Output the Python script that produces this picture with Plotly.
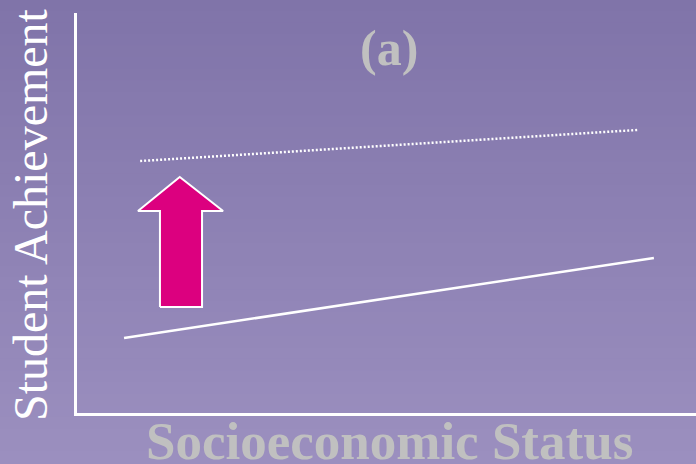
import plotly.graph_objects as go

# lines (axis units 0-100)
ses = [7.6, 93.2]
achievement_low = [18.75, 38.75]
ses_raised = [10.2, 90.5]
achievement_high = [63.0, 70.75]

# upward arrow outline
arrow_x = [13.4, 13.4, 9.85, 16.6, 23.6, 20.2, 20.2, 13.4]
arrow_y = [26.5, 50.5, 50.5, 59.0, 50.5, 50.5, 26.5, 26.5]

W, H = 696, 464
L, R, T, B = 77, 0, 13, 51

fig = go.Figure()

fig.add_trace(go.Scatter(x=ses, y=achievement_low, mode="lines",
                         line=dict(color="white", width=2.5), hoverinfo="skip"))
fig.add_trace(go.Scatter(x=ses_raised, y=achievement_high, mode="lines",
                         line=dict(color="white", width=2.5, dash="2px,2px"), hoverinfo="skip"))
fig.add_trace(go.Scatter(x=arrow_x, y=arrow_y, mode="lines", fill="toself",
                         fillcolor="#dc007f", line=dict(color="white", width=2),
                         hoverinfo="skip"))

# vertical gradient background drawn as thin bands
top, bot = (0x80, 0x74, 0xa9), (0x9b, 0x8f, 0xbf)
n = 40
pw, ph = W - L - R, H - T - B
y0p, y1p = -B / ph, 1 + T / ph
shapes = []
for i in range(n):
    f = i / (n - 1)
    c = tuple(round(top[k] + (bot[k] - top[k]) * f) for k in range(3))
    ya = y1p - (y1p - y0p) * i / n
    yb = y1p - (y1p - y0p) * (i + 1) / n
    shapes.append(dict(type="rect", xref="paper", yref="paper", layer="below",
                       x0=-L / pw - 0.01, x1=1.01, y0=yb - 0.002, y1=ya + 0.002,
                       line=dict(width=0), fillcolor="rgb(%d,%d,%d)" % c))

fig.update_layout(
    width=W, height=H,
    margin=dict(l=L, r=R, t=T, b=B),
    paper_bgcolor="#8e82b4", plot_bgcolor="rgba(0,0,0,0)",
    showlegend=False,
    shapes=shapes,
    xaxis=dict(range=[0, 100], showgrid=False, zeroline=False, showticklabels=False,
               ticks="", showline=True, linecolor="white", linewidth=2.5, fixedrange=True),
    yaxis=dict(range=[0, 100], showgrid=False, zeroline=False, showticklabels=False,
               ticks="", showline=True, linecolor="white", linewidth=2.5, fixedrange=True),
    annotations=[
        dict(text="<b>(a)</b>", xref="paper", yref="paper", x=(389 - L) / pw, y=(H - B - 48) / ph,
             xanchor="center", yanchor="middle", showarrow=False,
             font=dict(family="Liberation Serif", size=50, color="#c0c0c0")),
        dict(text="<b>Socioeconomic Status</b>", xref="paper", yref="paper",
             x=(389 - L) / pw, y=(H - B - 441) / ph, xanchor="center", yanchor="middle",
             showarrow=False, font=dict(family="Liberation Serif", size=53, color="#c0c0c0")),
        dict(text="Student Achievement", xref="paper", yref="paper", textangle=-90,
             x=(30 - L) / pw, y=(H - B - 215) / ph, xanchor="center", yanchor="middle",
             showarrow=False, font=dict(family="Liberation Serif", size=48, color="white")),
    ],
)

fig.write_html("out.html", config={"displayModeBar": False},
               post_script="document.body.style.margin='0';")
